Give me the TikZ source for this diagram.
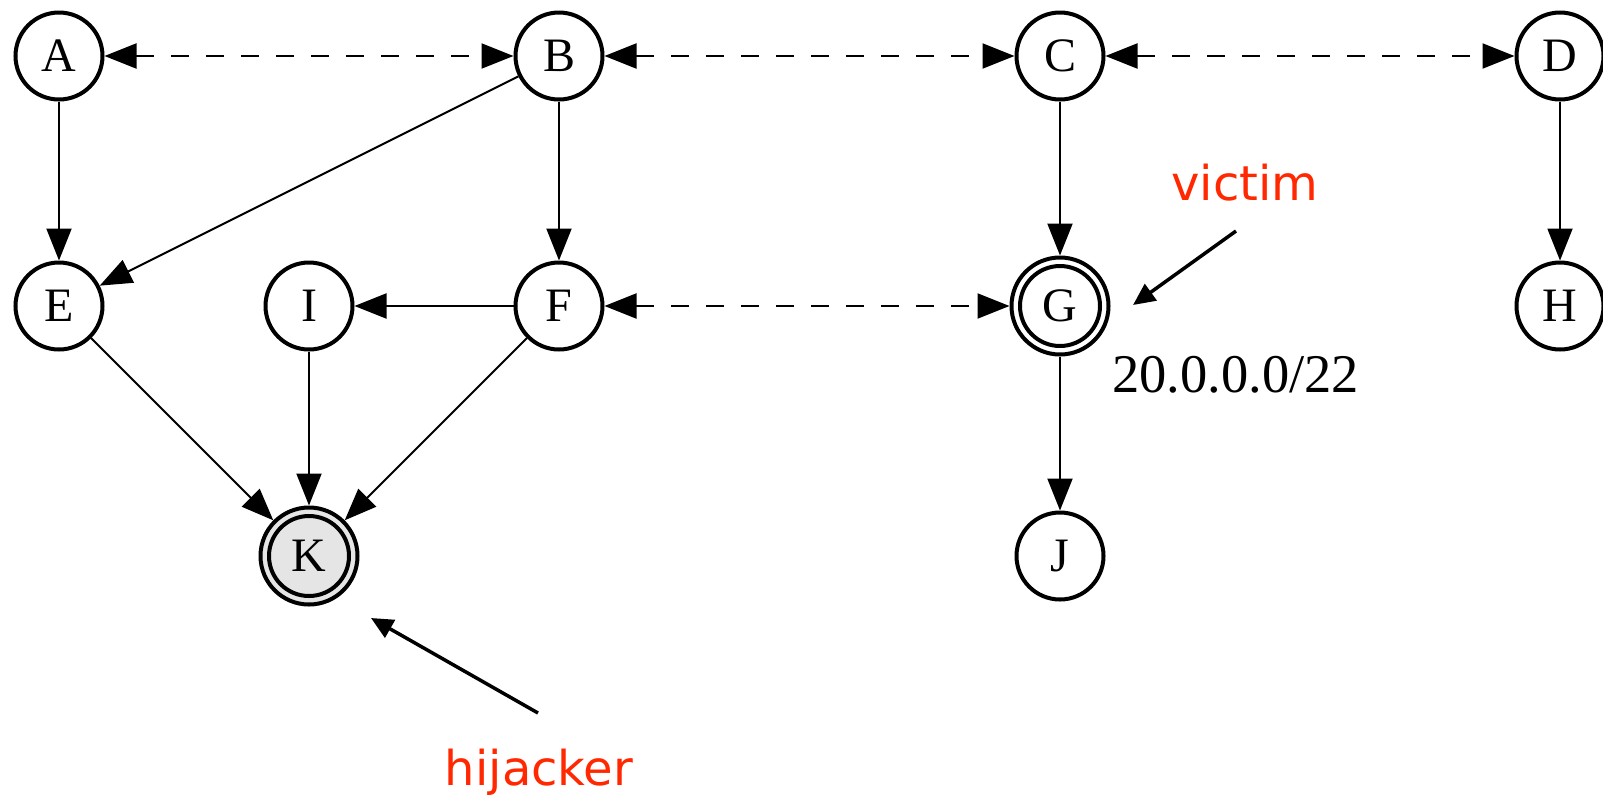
\documentclass[tikz,border=0pt]{standalone}
\usepackage{fontspec}
\setmainfont{Liberation Serif}
\newfontfamily\annfont{DejaVu Sans}
\usetikzlibrary{arrows.meta}
\definecolor{alertred}{RGB}{255,40,0}
\definecolor{hijackfill}{RGB}{229,229,229}

\begin{document}
\begin{tikzpicture}[x=1pt,y=-1pt,
  as/.style={circle, draw, line width=4pt, minimum size=87pt, inner sep=0pt,
    font=\fontsize{48}{48}\selectfont},
  asdbl/.style={as, minimum size=97pt,
    path picture={\draw[line width=4pt] (path picture bounding box.center) circle (40pt);}},
  link/.style={line width=2pt, -{Triangle[length=32pt,width=25pt]}},
  peer/.style={line width=2pt, dash pattern=on 17.5pt off 17.5pt,
    {Triangle[length=32pt,width=25pt]}-{Triangle[length=32pt,width=25pt]}},
  note/.style={font=\annfont\fontsize{48}{48}\selectfont, text=alertred, inner sep=0pt},
  pointer/.style={line width=3.5pt, -{Triangle[length=22pt,width=20pt]}}
]
\useasboundingbox (0,0) rectangle (1603,796);

% autonomous systems
\node[as] (A) at (59,56) {A};
\node[as] (B) at (559,56) {B};
\node[as] (C) at (1060,56) {C};
\node[as] (D) at (1560,56) {D};
\node[as] (E) at (59,306) {E};
\node[as] (I) at (309,306) {I};
\node[as] (F) at (559,306) {F};
\node[asdbl] (G) at (1060,306) {G};
\node[as] (H) at (1560,306) {H};
\node[asdbl, fill=hijackfill] (K) at (309,556) {K};
\node[as] (J) at (1060,556) {J};

% peering links
\draw[peer] (A) -- (B);
\draw[peer] (B) -- (C);
\draw[peer] (C) -- (D);
\draw[peer] (F) -- (G);

% customer links
\draw[link] (A) -- (E);
\draw[link] (B) -- (E);
\draw[link] (B) -- (F);
\draw[link] (C) -- (G);
\draw[link] (D) -- (H);
\draw[link] (F) -- (I);
\draw[link] (E) -- (K);
\draw[link] (I) -- (K);
\draw[link] (F) -- (K);
\draw[link] (G) -- (J);

% annotations
\node[inner sep=0pt, anchor=base west, font=\fontsize{54.5}{54.5}\selectfont] (prefix) at (1112,392) {20.0.0.0/22};
\node[note, anchor=base] (victim) at (1245,200) {victim};
\node[note, anchor=base] (hijacker) at (539,785) {hijacker};
\coordinate (vs) at (1236,231);
\coordinate (vt) at (1133,305);
\coordinate (hs) at (538,713);
\coordinate (ht) at (371,618);
\draw[pointer] (vs) -- (vt);
\draw[pointer] (hs) -- (ht);
\end{tikzpicture}
\end{document}
